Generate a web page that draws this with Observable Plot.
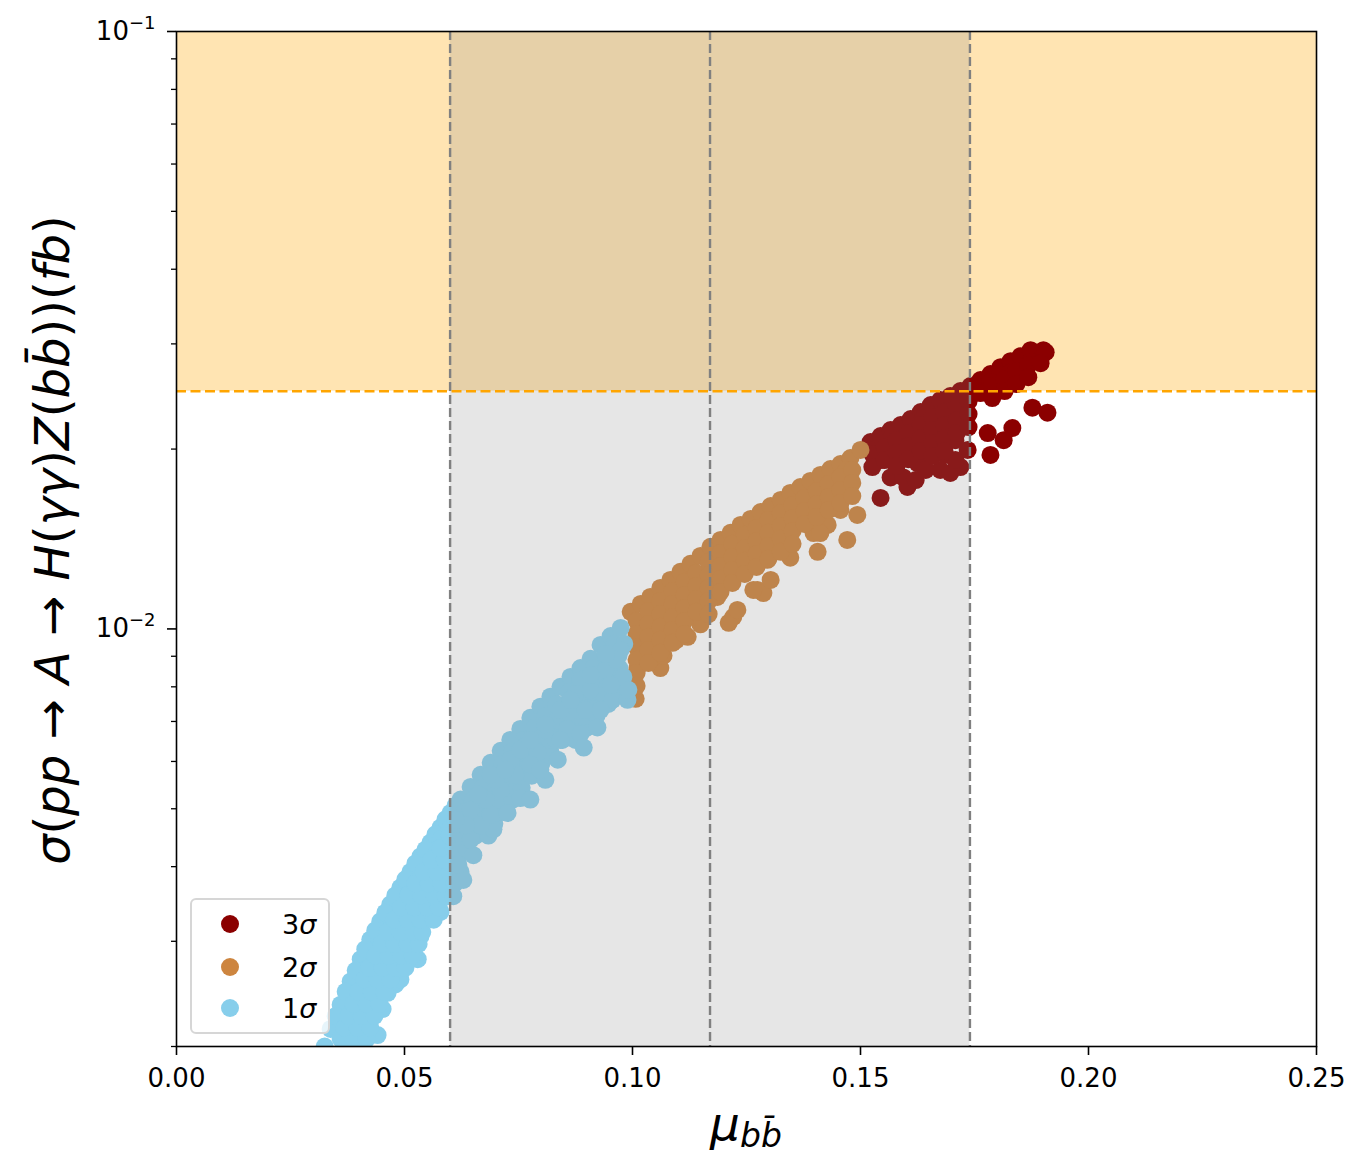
<!DOCTYPE html>
<html><head><meta charset="utf-8">
<script src="https://cdn.jsdelivr.net/npm/d3@7"></script>
<script src="https://cdn.jsdelivr.net/npm/@observablehq/plot@0.6"></script>
<style>body{margin:0;background:#fff;} svg{display:block}</style>
</head><body><div id="chart"></div>
<script>
// ---- data ----
const sigma3 = [
[0.1522,0.02055],[0.1544,0.02103],[0.1566,0.02152],[0.1588,0.02194],[0.1610,0.02245],[0.1632,0.02307],[0.1654,0.02370],[0.1675,0.02416],[0.1697,0.02453],[0.1719,0.02501],[0.1741,0.02550],[0.1763,0.02609],[0.1785,0.02670],[0.1807,0.02742],[0.1829,0.02806],[0.1851,0.02861],[0.1873,0.02928],[0.1901,0.02928],
[0.1544,0.01657],[0.1566,0.01793],[0.1594,0.01793],[0.1603,0.01728],[0.1654,0.01978],[0.1691,0.02070],[0.1675,0.01845],[0.1697,0.01824],[0.1735,0.01993],[0.1719,0.01866],[0.1779,0.02127],[0.1814,0.02070],[0.1833,0.02169],[0.1785,0.01955],[0.1877,0.02346],[0.1910,0.02301],[0.1792,0.02487],[0.1763,0.02535],[0.1625,0.01895],[0.1544,0.01917],[0.1638,0.02254],[0.1570,0.02100],[0.1522,0.01993],[0.1588,0.02031],[0.1621,0.02070],[0.1664,0.02186],[0.1697,0.02280],[0.1719,0.02324],[0.1730,0.02416],[0.1807,0.02659],[0.1829,0.02687],[0.1851,0.02748],[0.1818,0.02550],[0.1873,0.02796],[0.1906,0.02905],[0.1785,0.02588],[0.1599,0.01955],[0.1686,0.01955],[0.1708,0.02070],[0.1643,0.01845],[0.1621,0.01775],[0.1708,0.01917],
[0.1526,0.01962],[0.1526,0.01866],[0.1553,0.02016],[0.1553,0.01917],[0.1579,0.02070],[0.1579,0.01970],[0.1579,0.01873],[0.1605,0.02127],[0.1605,0.02024],[0.1605,0.01924],[0.1632,0.02194],[0.1632,0.02086],[0.1632,0.01985],[0.1658,0.02263],[0.1658,0.02152],[0.1658,0.02047],[0.1658,0.01947],[0.1684,0.02307],[0.1684,0.02194],[0.1684,0.02086],[0.1684,0.01985],[0.1711,0.02352],[0.1711,0.02236],[0.1711,0.02127],[0.1737,0.02406],[0.1737,0.02289],[0.1737,0.02177],[0.1763,0.02482],[0.1789,0.02550],[0.1789,0.02434],[0.1816,0.02619],[0.1816,0.02501],[0.1842,0.02701],[0.1842,0.02569],[0.1868,0.02763],[0.1868,0.02639],[0.1895,0.02785]
];
const sigma2 = [
[0.0996,0.01068],[0.1018,0.01101],[0.1039,0.01131],[0.1061,0.01171],[0.1083,0.01208],[0.1105,0.01246],[0.1127,0.01285],[0.1149,0.01325],[0.1171,0.01372],[0.1193,0.01409],[0.1215,0.01448],[0.1237,0.01493],[0.1259,0.01528],[0.1281,0.01569],[0.1303,0.01606],[0.1325,0.01644],[0.1346,0.01689],[0.1368,0.01728],[0.1390,0.01769],[0.1412,0.01810],[0.1434,0.01852],[0.1456,0.01888],[0.1478,0.01932],[0.1500,0.01993],
[0.1007,0.00764],[0.1011,0.00860],[0.1018,0.00958],[0.1046,0.00984],[0.1061,0.00860],[0.1046,0.00898],[0.1121,0.00970],[0.1090,0.00996],[0.1112,0.01035],[0.1149,0.01047],[0.1186,0.01131],[0.1221,0.01047],[0.1211,0.01024],[0.1230,0.01076],[0.1237,0.01255],[0.1274,0.01162],[0.1287,0.01148],[0.1303,0.01208],[0.1346,0.01316],[0.1296,0.01305],[0.1406,0.01346],[0.1397,0.01447],[0.1428,0.01493],[0.1471,0.01409],[0.1493,0.01552],[0.1456,0.01582],[0.1362,0.01522],[0.1325,0.01427],[0.1068,0.00902],[0.1096,0.00958],[0.1265,0.01162],[0.1412,0.01447],[0.1127,0.01118],[0.1160,0.01162],[0.1193,0.01208],[0.1259,0.01305],[0.1281,0.01382],[0.1336,0.01464],[0.1390,0.01582],[0.1434,0.01675],[0.1478,0.01775],[0.1149,0.01208],[0.1072,0.01076],[0.1039,0.01035],[0.1204,0.01305],[0.1248,0.01367],[0.1303,0.01464],[0.1368,0.01613],[0.1423,0.01708],[0.1469,0.01845],[0.1149,0.01018],[0.1061,0.00958],
[0.1009,0.01031],[0.1009,0.00981],[0.1009,0.00933],[0.1009,0.00888],[0.1009,0.00844],[0.1009,0.00803],
[0.1035,0.01072],[0.1035,0.01019],[0.1035,0.00970],[0.1035,0.00922],[0.1035,0.00877],
[0.1061,0.01114],[0.1061,0.01059],[0.1061,0.01008],[0.1061,0.00959],[0.1061,0.00912],
[0.1088,0.01157],[0.1088,0.01101],[0.1088,0.01047],[0.1088,0.00996],[0.1088,0.00948],
[0.1114,0.01199],[0.1114,0.01140],[0.1114,0.01084],[0.1114,0.01031],[0.1114,0.00981],
[0.1140,0.01241],[0.1140,0.01180],[0.1140,0.01122],[0.1140,0.01068],
[0.1167,0.01295],[0.1167,0.01231],[0.1167,0.01171],[0.1167,0.01114],[0.1167,0.01059],
[0.1193,0.01340],[0.1193,0.01275],[0.1193,0.01213],[0.1193,0.01153],
[0.1219,0.01388],[0.1219,0.01320],[0.1219,0.01255],[0.1219,0.01194],
[0.1246,0.01437],[0.1246,0.01366],[0.1246,0.01300],[0.1246,0.01236],
[0.1272,0.01476],[0.1272,0.01404],[0.1272,0.01335],[0.1272,0.01270],
[0.1298,0.01522],[0.1298,0.01448],[0.1298,0.01377],[0.1298,0.01310],
[0.1325,0.01563],[0.1325,0.01487],[0.1325,0.01415],[0.1325,0.01346],
[0.1351,0.01612],[0.1351,0.01534],[0.1351,0.01459],[0.1351,0.01388],
[0.1377,0.01656],[0.1377,0.01575],[0.1377,0.01499],
[0.1404,0.01701],[0.1404,0.01618],[0.1404,0.01540],
[0.1430,0.01748],[0.1430,0.01663],[0.1430,0.01582],
[0.1456,0.01796],[0.1456,0.01708],[0.1456,0.01625],
[0.1482,0.01845],[0.1482,0.01755],[0.1482,0.01669]
];
const sigma1 = [
[0.0325,0.00200],[0.0338,0.00214],[0.0360,0.00235],[0.0382,0.00257],[0.0404,0.00280],[0.0425,0.00302],[0.0447,0.00324],[0.0469,0.00346],[0.0491,0.00369],[0.0513,0.00392],[0.0535,0.00416],[0.0557,0.00439],[0.0579,0.00465],[0.0601,0.00492],[0.0623,0.00518],[0.0645,0.00544],[0.0667,0.00570],[0.0689,0.00597],[0.0711,0.00625],[0.0732,0.00652],[0.0754,0.00680],[0.0776,0.00710],[0.0798,0.00741],[0.0820,0.00770],[0.0842,0.00800],[0.0864,0.00831],[0.0886,0.00860],[0.0908,0.00891],[0.0930,0.00940],[0.0952,0.00973],[0.0974,0.01004],
[0.0349,0.00225],[0.0371,0.00247],[0.0393,0.00268],[0.0414,0.00291],[0.0436,0.00313],[0.0458,0.00335],[0.0480,0.00358],[0.0502,0.00381],[0.0524,0.00405],[0.0546,0.00427],[0.0568,0.00453],[0.0590,0.00480],[0.0612,0.00506],
[0.0371,0.00206],[0.0393,0.00214],[0.0414,0.00222],[0.0441,0.00209],[0.0452,0.00231],[0.0430,0.00240],[0.0463,0.00246],[0.0480,0.00254],[0.0491,0.00259],[0.0458,0.00275],[0.0436,0.00264],[0.0480,0.00285],[0.0502,0.00296],[0.0529,0.00280],[0.0513,0.00314],[0.0535,0.00306],[0.0520,0.00318],[0.0491,0.00333],[0.0546,0.00346],[0.0579,0.00336],[0.0561,0.00359],[0.0594,0.00357],[0.0579,0.00380],[0.0557,0.00395],[0.0590,0.00411],[0.0601,0.00436],[0.0579,0.00444],[0.0550,0.00373],[0.0518,0.00346],[0.0531,0.00380],[0.0509,0.00359],[0.0487,0.00302],[0.0465,0.00291],[0.0408,0.00235],[0.0386,0.00226],[0.0421,0.00249],[0.0443,0.00269],[0.0474,0.00320],[0.0502,0.00339],[0.0535,0.00359],[0.0568,0.00419],[0.0599,0.00462],[0.0404,0.00206],
[0.0360,0.00206],[0.0388,0.00206],[0.0417,0.00206],
[0.0368,0.00215],[0.0397,0.00215],[0.0425,0.00215],
[0.0377,0.00225],[0.0406,0.00225],[0.0434,0.00225],
[0.0388,0.00236],[0.0417,0.00236],[0.0445,0.00236],
[0.0399,0.00247],[0.0428,0.00247],[0.0456,0.00247],
[0.0412,0.00259],[0.0441,0.00259],[0.0469,0.00259],
[0.0423,0.00271],[0.0452,0.00271],[0.0480,0.00271],[0.0502,0.00271],
[0.0436,0.00284],[0.0465,0.00284],[0.0493,0.00284],[0.0518,0.00284],
[0.0450,0.00297],[0.0478,0.00297],[0.0507,0.00297],[0.0531,0.00297],
[0.0463,0.00311],[0.0491,0.00311],[0.0520,0.00311],[0.0539,0.00311],
[0.0478,0.00326],[0.0507,0.00326],[0.0535,0.00326],[0.0564,0.00326],
[0.0493,0.00342],[0.0522,0.00342],[0.0550,0.00342],[0.0575,0.00342],
[0.0509,0.00358],[0.0537,0.00358],[0.0566,0.00358],[0.0590,0.00358],
[0.0524,0.00375],[0.0553,0.00375],[0.0581,0.00375],[0.0610,0.00375],
[0.0542,0.00392],[0.0570,0.00392],[0.0599,0.00392],[0.0623,0.00392],
[0.0559,0.00411],[0.0588,0.00411],[0.0616,0.00411],
[0.0579,0.00430],[0.0607,0.00430],[0.0636,0.00430],
[0.0599,0.00451],[0.0627,0.00451],[0.0656,0.00451],[0.0684,0.00451],
[0.0614,0.00472],[0.0643,0.00472],[0.0671,0.00472],[0.0697,0.00472],
[0.0632,0.00494],[0.0660,0.00494],[0.0689,0.00494],[0.0717,0.00494],
[0.0651,0.00518],[0.0680,0.00518],[0.0708,0.00518],[0.0737,0.00518],
[0.0671,0.00542],[0.0700,0.00542],[0.0728,0.00542],[0.0757,0.00542],
[0.0693,0.00568],[0.0721,0.00568],[0.0750,0.00568],[0.0779,0.00568],
[0.0715,0.00595],[0.0743,0.00595],[0.0772,0.00595],[0.0800,0.00595],
[0.0737,0.00623],[0.0765,0.00623],[0.0794,0.00623],[0.0820,0.00623],
[0.0761,0.00652],[0.0789,0.00652],[0.0818,0.00652],[0.0846,0.00652],[0.0875,0.00652],
[0.0785,0.00683],[0.0814,0.00683],[0.0842,0.00683],[0.0871,0.00683],[0.0899,0.00683],
[0.0809,0.00715],[0.0838,0.00715],[0.0866,0.00715],[0.0895,0.00715],[0.0921,0.00715],
[0.0833,0.00749],[0.0862,0.00749],[0.0890,0.00749],[0.0919,0.00749],[0.0947,0.00749],
[0.0860,0.00784],[0.0888,0.00784],[0.0917,0.00784],[0.0945,0.00784],[0.0974,0.00784],
[0.0886,0.00822],[0.0914,0.00822],[0.0943,0.00822],[0.0971,0.00822],
[0.0914,0.00860],[0.0943,0.00860],[0.0971,0.00860],
[0.0941,0.00901],[0.0969,0.00901],
[0.0961,0.00944],[0.0982,0.00944],
[0.0607,0.00357],[0.0629,0.00380],[0.0651,0.00418],[0.0695,0.00462],[0.0618,0.00403],[0.0645,0.00444],[0.0667,0.00469],[0.0689,0.00489],[0.0726,0.00492],[0.0754,0.00521],[0.0776,0.00518],[0.0809,0.00559],[0.0792,0.00621],[0.0836,0.00604],[0.0827,0.00658],[0.0857,0.00680],[0.0886,0.00667],[0.0923,0.00684],[0.0893,0.00633],[0.0842,0.00652],[0.0930,0.00785],[0.0956,0.00761],[0.0989,0.00761],[0.0980,0.00831],[0.0974,0.00922],[0.0914,0.00831],[0.0879,0.00732],[0.0711,0.00538],[0.0678,0.00518],[0.0645,0.00498],[0.0743,0.00570],[0.0776,0.00593],[0.0732,0.00604],[0.0765,0.00638],[0.0809,0.00678],[0.0842,0.00732],[0.0875,0.00778],[0.0908,0.00791],[0.0941,0.00854],[0.0963,0.00888],[0.0634,0.00469],[0.0662,0.00528],[0.0700,0.00559],[0.0798,0.00581],[0.0897,0.00732],[0.0930,0.00732],[0.0952,0.00806],[0.0991,0.00791],[0.0612,0.00479],[0.0689,0.00570],[0.0754,0.00628],[0.0809,0.00692],[0.0864,0.00761],[0.0908,0.00838],[0.0941,0.00907],[0.0721,0.00581],[0.0776,0.00652]
];
const seriesNames = ["3σ", "2σ", "1σ"];
const seriesColors = ["#8b0000", "#cd853f", "#87ceeb"];
const xDomain = [0, 0.25];
const yDomain = [0.002, 0.1];
const xTicks = [0, 0.05, 0.10, 0.15, 0.20, 0.25];
const yMajorTicks = [0.01, 0.1];
const yMinorTicks = [0.002,0.003,0.004,0.005,0.006,0.007,0.008,0.009,0.02,0.03,0.04,0.05,0.06,0.07,0.08,0.09];
const sigmaLimit = [0.025];           // horizontal orange limit
const muLines = [0.06, 0.117, 0.174]; // vertical dashed lines
const muBand = [[0.06, 0.174]];       // gray band

// ---- build table ----
const points = [
  ...sigma3.map(([x, y]) => ({x, y, s: seriesNames[0]})),
  ...sigma2.map(([x, y]) => ({x, y, s: seriesNames[1]})),
  ...sigma1.map(([x, y]) => ({x, y, s: seriesNames[2]}))
];
const powFmt = d => "10|" + String(Math.round(Math.log10(d))).replace("-", "\u2212");

const W = 1367, H = 1173;
const ff = "'DejaVu Sans', sans-serif";
const chart = Plot.plot({
  width: W, height: H,
  marginLeft: 176, marginRight: 51, marginTop: 31, marginBottom: 127,
  style: {fontFamily: ff, fontSize: "26px", color: "black", background: "white"},
  x: {domain: xDomain},
  y: {type: "log", domain: yDomain},
  color: {domain: seriesNames, range: seriesColors},
  marks: [
    Plot.rect(sigmaLimit, {x1: xDomain[0], x2: xDomain[1], y1: d => d, y2: yDomain[1], fill: "orange", fillOpacity: 0.3}),
    Plot.dot(points, {x: "x", y: "y", r: 9, fill: "s", clip: true}),
    Plot.rect(muBand, {x1: d => d[0], x2: d => d[1], y1: yDomain[0], y2: yDomain[1], fill: "gray", fillOpacity: 0.2}),
    Plot.ruleY(sigmaLimit, {stroke: "orange", strokeWidth: 2.6, strokeDasharray: "10,4.5"}),
    Plot.ruleX(muLines, {stroke: "gray", strokeWidth: 2.4, strokeDasharray: "9,4"}),
    Plot.frame({stroke: "black", strokeWidth: 1.6}),
    Plot.axisX({ticks: xTicks, tickFormat: d3.format(".2f"), tickSize: 9, tickPadding: 13, fontSize: 26, strokeWidth: 1.6, label: null}),
    Plot.axisY({ticks: yMajorTicks, tickFormat: powFmt, tickSize: 9, tickPadding: 12, fontSize: 26, strokeWidth: 1.6, label: null}),
    Plot.axisY({ticks: yMinorTicks, tickFormat: () => "", tickSize: 5, strokeWidth: 1.3, label: null})
  ]
});
document.getElementById("chart").append(chart);

const svg = d3.select(chart);
// superscript exponents on y tick labels
svg.selectAll("text").each(function() {
  const t = this.textContent;
  if (/^10\|/.test(t)) {
    const exp = t.split("|")[1];
    const el = d3.select(this);
    el.text("");
    el.append("tspan").text("10");
    el.append("tspan").attr("font-size", 18).attr("dy", "-0.62em").text(exp);
  }
});
// y title
const yt = svg.append("text")
  .attr("transform", "translate(69,540) rotate(-90)")
  .attr("text-anchor", "middle").attr("font-family", ff).attr("font-size", 48).attr("fill", "black");
const yParts = [["σ",1],["(",0],["pp",1],[" → ",0],["A",1],[" → ",0],["H",1],["(",0],["γγ",1],[")",0],["Z",1],["(",0],["bb\u0304",1],["))(",0],["fb",1],[")",0]];
yParts.forEach(([t, it]) => yt.append("tspan").attr("font-style", it ? "italic" : "normal").text(t));
// x title
const xt = svg.append("text")
  .attr("x", 746).attr("y", 1140)
  .attr("text-anchor", "middle").attr("font-family", ff).attr("font-size", 47).attr("fill", "black");
xt.append("tspan").attr("font-style", "italic").text("μ");
xt.append("tspan").attr("font-style", "italic").attr("font-size", 33).attr("dy", 7).text("bb\u0304");
// legend
const lg = svg.append("g");
lg.append("rect").attr("x", 191).attr("y", 899).attr("width", 138).attr("height", 134).attr("rx", 5)
  .attr("fill", "white").attr("fill-opacity", 0.8).attr("stroke", "#d6d6d6").attr("stroke-width", 2);
const ly = [924, 967, 1008];
seriesNames.forEach((name, i) => {
  lg.append("circle").attr("cx", 230).attr("cy", ly[i]).attr("r", 9).attr("fill", seriesColors[i]);
  const t = lg.append("text").attr("x", 282).attr("y", ly[i]).attr("dy", "0.36em").attr("text-anchor", "start")
    .attr("font-family", ff).attr("font-size", 27).attr("fill", "black");
  t.append("tspan").text(name[0]);
  t.append("tspan").attr("font-style", "italic").text(name.slice(1));
});
</script>
</body></html>
